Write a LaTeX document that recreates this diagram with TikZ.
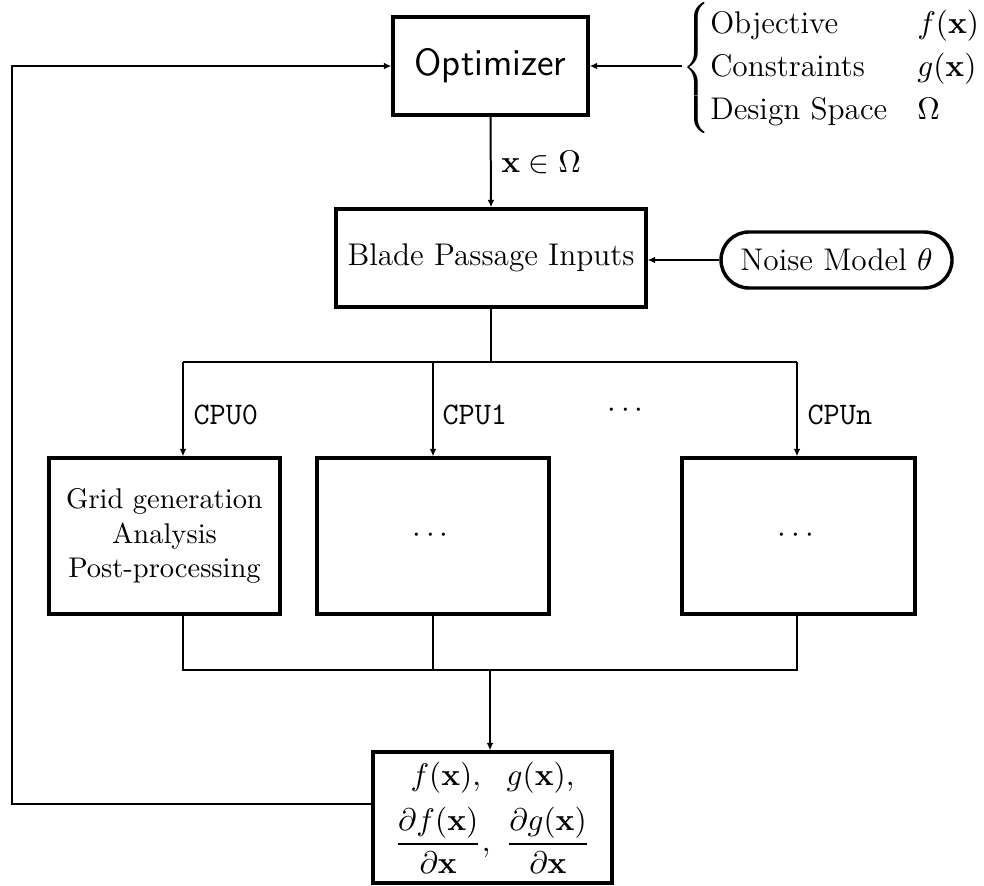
\documentclass[tikz,border=0pt]{standalone}
\usepackage{amsmath}
\usetikzlibrary{arrows.meta,shapes.misc}
\newcommand\pxu{0.351pt}

\begin{document}
\begin{tikzpicture}[x=0.351pt,y=-0.351pt,
  font=\fontsize{11}{13.6}\selectfont,
  blk/.style={draw,line width=1.2pt,inner sep=0pt,align=center},
  conn/.style={line width=0.7pt},
  arr/.style={conn,-{Latex[length=2.6pt,width=2.4pt]}},
  cpu/.style={anchor=west,inner sep=0pt,font=\fontsize{11}{13.6}\selectfont\ttfamily},
]
\useasboundingbox (0,0) rectangle (984,886);

% optimizer and its problem definition
\node[blk,minimum width=195*\pxu,minimum height=98*\pxu,
      font=\fontsize{13.3}{16}\selectfont\sffamily] (opt) at (490.5,66) {Optimizer};
\node[anchor=west,inner sep=0pt] (spec) at (682,68)
  {$\left\{\renewcommand{\arraystretch}{1.1}%
    \begin{array}{@{}l@{\hspace{10.5pt}}l@{}}
      \text{Objective}    & f(\mathbf{x})\\
      \text{Constraints}  & g(\mathbf{x})\\
      \text{Design Space} & \Omega
    \end{array}\right.$};
\draw[arr] (spec.west |- opt.east) -- (opt.east);

% blade passage inputs and noise model
\node[blk,minimum width=310*\pxu,minimum height=98*\pxu] (blade) at (491,258) {Blade Passage Inputs};
\node[draw,rounded rectangle,line width=1.2pt,minimum width=231*\pxu,
      minimum height=56*\pxu,inner sep=0pt] (noise) at (836.5,260) {Noise Model $\theta$};
\draw[arr] (opt.south) -- node[right] {$\mathbf{x}\in\Omega$} (blade.north);
\draw[arr] (noise.west) -- (blade.east |- noise.west);

% distribution over the CPUs
\coordinate (top) at (491,362);
\coordinate (t0) at (183,362);
\coordinate (t1) at (433,362);
\coordinate (t2) at (797,362);
\node[blk,minimum width=231*\pxu,minimum height=156*\pxu,font=\fontsize{10}{12}\selectfont] (b0) at (164.5,536)
  {Grid generation\\Analysis\\Post-processing};
\node[blk,minimum width=232*\pxu,minimum height=156*\pxu] (b1) at (433,536) {$\cdots$};
\node[blk,minimum width=233*\pxu,minimum height=156*\pxu] (b2) at (798.5,536) {$\cdots$};
\draw[conn] (blade.south) -- (top);
\draw[conn] (t0) -- (t2);
\draw[arr] (t0) -- (t0 |- b0.north);
\draw[arr] (t1) -- (t1 |- b1.north);
\draw[arr] (t2) -- (t2 |- b2.north);
\node[cpu] (c0) at (193,415) {CPU0};
\node[cpu] (c1) at (442,415) {CPU1};
\node[cpu] (cn) at (807,415) {CPUn};
\node (dots) at (628,411) {$\cdots$};

% gathering of the results
\coordinate (m0) at (183,670);
\coordinate (m2) at (797,670);
\coordinate (mid) at (490,670);
\node[blk,minimum width=239*\pxu,minimum height=131*\pxu] (bot) at (492.5,817.5)
  {$f(\mathbf{x}),\ \ g(\mathbf{x}),$\\[4pt]
   $\dfrac{\partial f(\mathbf{x})}{\partial\mathbf{x}},\ \dfrac{\partial g(\mathbf{x})}{\partial\mathbf{x}}$};
\draw[conn] (t0 |- b0.south) -- (m0) -- (m2) -- (t2 |- b2.south);
\draw[conn] (t1 |- b1.south) -- (t1 |- m0);
\draw[arr] (mid) -- (mid |- bot.north);

% feedback to the optimizer
\coordinate (fbrow) at (0,804);
\coordinate (fbx) at (12,0);
\draw[arr] (bot.west |- fbrow) -- (fbx |- fbrow) -- (fbx |- opt.west) -- (opt.west);
\end{tikzpicture}
\end{document}
